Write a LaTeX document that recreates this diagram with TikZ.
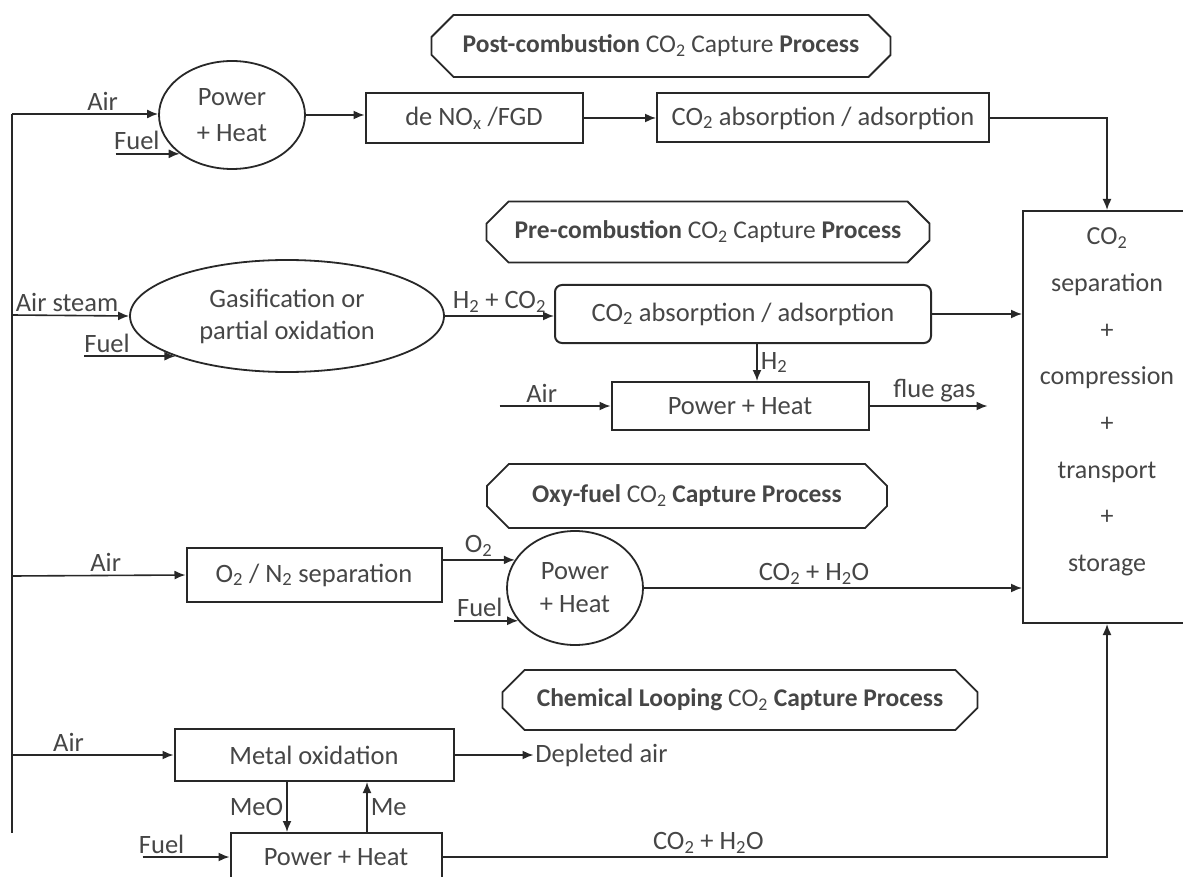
\documentclass[tikz,border=0pt]{standalone}
\usepackage{fontspec}
\setmainfont{Carlito}
\usepackage{tikz}
\usetikzlibrary{positioning, arrows.meta, shapes.geometric, shapes.misc}
\definecolor{ink}{RGB}{70,70,70}
\definecolor{edge}{RGB}{40,40,40}
\newcommand{\cotwo}{CO\textsubscript{2}}
\tikzset{
  arr/.style={-{Latex[length=11pt,width=9pt]}, line width=1.6pt, draw=edge},
  ln/.style={line width=1.6pt, draw=edge},
  box/.style={draw=edge, line width=2pt, align=center, inner sep=2pt, fill=white},
  rbox/.style={box, rounded corners=7pt},
  oval/.style={draw=edge, ellipse, line width=1.8pt, align=center, inner sep=0pt},
  banner/.style={draw=edge, chamfered rectangle, chamfered rectangle xsep=12pt,
    chamfered rectangle ysep=11pt, line width=1.8pt, align=center, inner sep=0pt,
    font=\fontsize{25.5}{30}\selectfont},
  lab/.style={inner sep=3pt, text=ink}
}

\begin{document}
\begin{tikzpicture}[x=1pt, y=-1pt, font=\fontsize{26.5}{31}\selectfont, text=ink]
\clip (0,0) rectangle (1183,877);
% ---------- feed line on the left ----------
\coordinate (sp1) at (12,114);
\coordinate (sp2) at (12,315);
\coordinate (sp3) at (12,576);
\coordinate (sp4) at (12,755);
\coordinate (spB) at (12,833);
\draw[ln] (sp1) -- (spB);
% ---------- storage box ----------
\node[box, minimum width=168pt, minimum height=412pt] (store) at (1107,417) {};
\node[align=center, font=\fontsize{26}{46.7}\selectfont] (storetxt) at ([yshift=15pt]store.center)
  {\cotwo\\separation\\+\\compression\\+\\transport\\+\\storage};
% ---------- post-combustion ----------
\node[banner, minimum width=459pt, minimum height=62pt] (bpost) at (661,46)
  {\textbf{Post-combustion} \cotwo{} Capture \textbf{Process}};
\node[oval, minimum width=146pt, minimum height=108pt] (ph1) at (232,115) {Power\\[5pt]+ Heat};
\node[box, minimum width=217pt, minimum height=50pt] (dno) at (474,118) {de NO\textsubscript{x} /FGD};
\node[box, minimum width=332pt, minimum height=49pt] (abs1) at (823,118)
  {\cotwo{} absorption / adsorption};
\draw[arr] (sp1) -- (sp1 -| ph1.west) node[lab, above, pos=0.62] (lair1) {Air};
\coordinate[left=64pt of ph1.south west] (fu1);
\draw[arr] (fu1) -- (ph1.south west) node[lab, above, pos=0.33] (lfu1) {Fuel};
\draw[arr] (ph1.east) -- (ph1.east -| dno.west);
\draw[arr] (dno) -- (abs1);
\draw[arr] (abs1.east) -| (store.north);
% ---------- pre-combustion ----------
\node[banner, minimum width=443pt, minimum height=61pt] (bpre) at (708,232)
  {\textbf{Pre-combustion} \cotwo{} Capture \textbf{Process}};
\node[oval, minimum width=314pt, minimum height=112pt] (gas) at (287,316)
  {Gasification or\\[1pt]partial oxidation};
\node[rbox, minimum width=376pt, minimum height=58pt] (abs2) at (743,314)
  {\cotwo{} absorption / adsorption};
\node[box, minimum width=257pt, minimum height=48pt] (pw2) at (740,406) {Power + Heat};
\draw[arr] (sp2) -- (gas.west) node[lab, above, pos=0.47] (lair2) {Air steam};
\coordinate[left=91pt of gas.south west] (fu2);
\draw[arr] (fu2) -- (gas.south west) node[lab, above, pos=0.25] (lfu2) {Fuel};
\draw[arr] (gas.east) -- (gas.east -| abs2.west) node[lab, above, midway] (lsyn) {H\textsubscript{2} + \cotwo};
\draw[arr] (abs2.east) -- (abs2.east -| store.west);
\draw[arr] ([xshift=14pt]abs2.south) -- ([xshift=14pt]abs2.south |- pw2.north)
  node[lab, right, midway] (lh2) {H\textsubscript{2}};
\coordinate[left=111pt of pw2.west] (air3);
\draw[arr] (air3) -- (pw2.west) node[lab, above, pos=0.38] (lair3) {Air};
\coordinate[right=118pt of pw2.east] (flue);
\draw[arr] (pw2.east) -- (flue) node[lab, above, pos=0.55] (lflue) {flue gas};
% ---------- oxy-fuel ----------
\node[banner, minimum width=400pt, minimum height=64pt] (boxy) at (687,496)
  {\textbf{Oxy-fuel} \cotwo{} \textbf{Capture Process}};
\node[box, minimum width=255pt, minimum height=54pt] (sep) at (314,575)
  {O\textsubscript{2} / N\textsubscript{2} separation};
\node[oval, minimum width=136pt, minimum height=114pt] (ph3) at (575,588) {Power\\[2pt]+ Heat};
\draw[arr] (sp3) -- (sep.west) node[lab, above, pos=0.54] (lair4) {Air};
\draw[arr] (ph3.155 -| sep.east) -- (ph3.155) node[lab, above, midway] (lo2) {O\textsubscript{2}};
\coordinate[left=64pt of ph3.210] (fu3);
\draw[arr] (fu3) -- (ph3.210) node[lab, above, pos=0.4] (lfu3) {Fuel};
\draw[arr] (ph3.east) -- (ph3.east -| store.west)
  node[lab, above, pos=0.45] (lflue3) {\cotwo{} + H\textsubscript{2}O};
% ---------- chemical looping ----------
\node[banner, minimum width=475pt, minimum height=60pt] (bchem) at (740,700)
  {\textbf{Chemical Looping} \cotwo{} \textbf{Capture Process}};
\node[box, minimum width=279pt, minimum height=52pt] (mox) at (314,755) {Metal oxidation};
\node[box, minimum width=211pt, minimum height=48pt] (pwc) at (336,857) {Power + Heat};
\draw[arr] (sp4) -- (mox.west) node[lab, above, pos=0.35] (lair5) {Air};
\draw[arr] (mox.east) -- ++(79,0) node[lab, right, inner sep=1pt] (dep) {Depleted air};
\draw[arr] ([xshift=-27pt]mox.south) -- ([xshift=-27pt]mox.south |- pwc.north)
  node[lab, left, midway] (lmeo) {MeO};
\draw[arr] ([xshift=53pt]mox.south |- pwc.north) -- ([xshift=53pt]mox.south)
  node[lab, right, midway] (lme) {Me};
\coordinate[left=87pt of pwc.west] (fu4);
\draw[arr] (fu4) -- (pwc.west) node[lab, above, pos=0.22] (lfu4) {Fuel};
\draw[arr] (pwc.east) -| (store.south) node[lab, above, pos=0.2] (lflue4) {\cotwo{} + H\textsubscript{2}O};
\end{tikzpicture}
\end{document}
